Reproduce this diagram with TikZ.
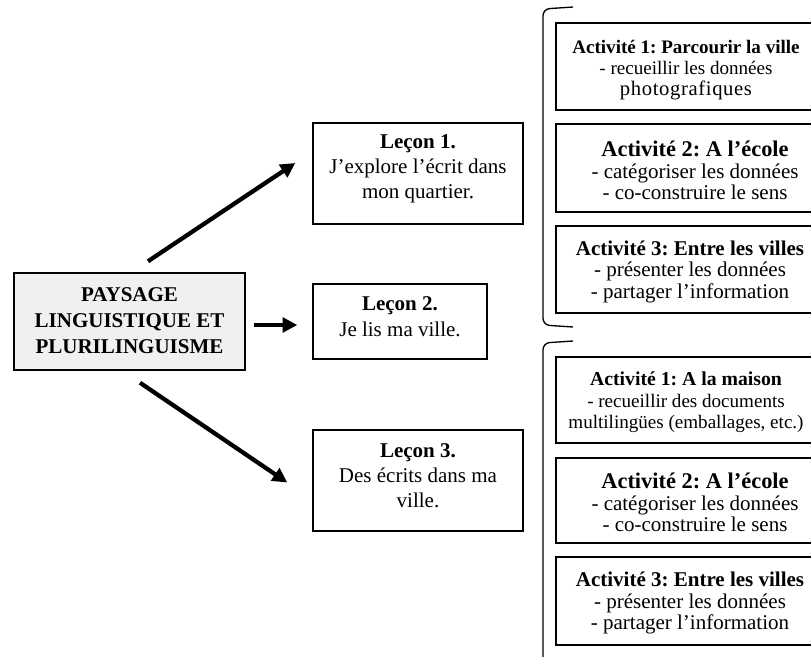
\documentclass[tikz,border=0pt]{standalone}
\usepackage{fontspec}
\setmainfont{Liberation Serif}
\usetikzlibrary{arrows.meta,calc}
\begin{document}
\frenchspacing
\begin{tikzpicture}[x=0.75pt,y=-0.75pt,
  box/.style={draw, line width=1.1pt, inner sep=0pt},
  mainbox/.style={box, fill=black!6, minimum width=173.25pt, minimum height=72.75pt},
  lessonbox/.style={box, minimum width=157.5pt, minimum height=75.75pt},
  actbox/.style={box, minimum width=208.5pt, minimum height=65.25pt},
  txt/.style={align=center, inner sep=0pt, font=\fontsize{15.75}{18.5}\selectfont},
  acttxt/.style={align=center, inner sep=0pt, font=\fontsize{15.75}{16.1}\selectfont},
  arr/.style={line width=3.2pt, -{Triangle[length=11pt,width=11pt]}},
  brk/.style={line width=1pt, rounded corners=5pt}
]
\useasboundingbox (0,0) rectangle (811,657);
\clip (0,0) rectangle (811,657);

% main box
\node[mainbox] (main) at (129.5,321.5) {};
\node[txt, font=\fontsize{15.75}{19.5}\selectfont\bfseries] (maintxt) at ([yshift=0.5pt]main.center) {PAYSAGE\\LINGUISTIQUE ET\\PLURILINGUISME};

% lessons
\node[lessonbox] (l1) at (418,173.5) {};
\node[txt] (l1t) at ([yshift=3.5pt]l1.center) {\textbf{Leçon 1.}\\J’explore l’écrit dans\\mon quartier.};
\node[lessonbox, minimum width=130.5pt, minimum height=56.25pt] (l2) at (400,321.5) {};
\node[txt, font=\fontsize{15.75}{19.5}\selectfont] (l2t) at ([yshift=3.5pt]l2.center) {\textbf{Leçon 2.}\\Je lis ma ville.};
\node[lessonbox] (l3) at (418,480.5) {};
\node[txt] (l3t) at ([yshift=3.5pt]l3.center) {\textbf{Leçon 3.}\\Des écrits dans ma\\ville.};

% arrows
\draw[arr] ([shift={(18.5,-11)}]main.north) -- ([shift={(-17,-10.5)}]l1.west);
\draw[arr] ([shift={(8,3.5)}]main.east) -- ([shift={(-15,3.5)}]l2.west);
\draw[arr] ([shift={(10.5,12)}]main.south) -- ([shift={(-25,2)}]l3.west);

% group 1
\draw[brk] (573,7) -- (543,9) -- (543,325) -- (573,327);
\node[actbox] (a1) at (695,66.5) {};
\node[acttxt, font=\fontsize{14.3}{15.8}\selectfont] (a1t) at ([shift={(-9,3.5)}]a1.center) {\textbf{Activité 1: Parcourir la ville}\\- recueillir les données\\{\fontsize{15.5}{15.8}\selectfont\addfontfeatures{LetterSpace=3}photografiques}};
\node[actbox, minimum height=66pt] (a2) at (695,168) {};
\node[acttxt] (a2t) at ([shift={(0,2.5)}]a2.center) {\textbf{\fontsize{16.8}{16.1}\selectfont Activité 2: A l’école}\\- catégoriser les données\\- co-construire le sens};
\node[actbox] (a3) at (695,269.5) {};
\node[acttxt] (a3t) at ([shift={(-5,2)}]a3.center) {\textbf{Activité 3: Entre les villes}\\- présenter les données\\- partager l’information};

% group 2
\draw[brk] (573,341) -- (543,343) -- (543,680);
\node[actbox, minimum height=64.5pt] (b1) at (695,400) {};
\node[acttxt, font=\fontsize{14.3}{16.1}\selectfont] (b1t) at ([shift={(-9,2.5)}]b1.center) {\textbf{\fontsize{14.8}{16.1}\selectfont Activité 1: A la maison}\\- recueillir des documents\\multilingües (emballages, etc.)};
\node[actbox, minimum height=63.75pt] (b2) at (695,500.5) {};
\node[acttxt] (b2t) at ([shift={(0,2)}]b2.center) {\textbf{\fontsize{16.8}{16.1}\selectfont Activité 2: A l’école}\\- catégoriser les données\\- co-construire le sens};
\node[actbox, minimum height=66pt] (b3) at (695,601) {};
\node[acttxt] (b3t) at ([shift={(-5,2)}]b3.center) {\textbf{Activité 3: Entre les villes}\\- présenter les données\\- partager l’information};
\end{tikzpicture}
\end{document}
